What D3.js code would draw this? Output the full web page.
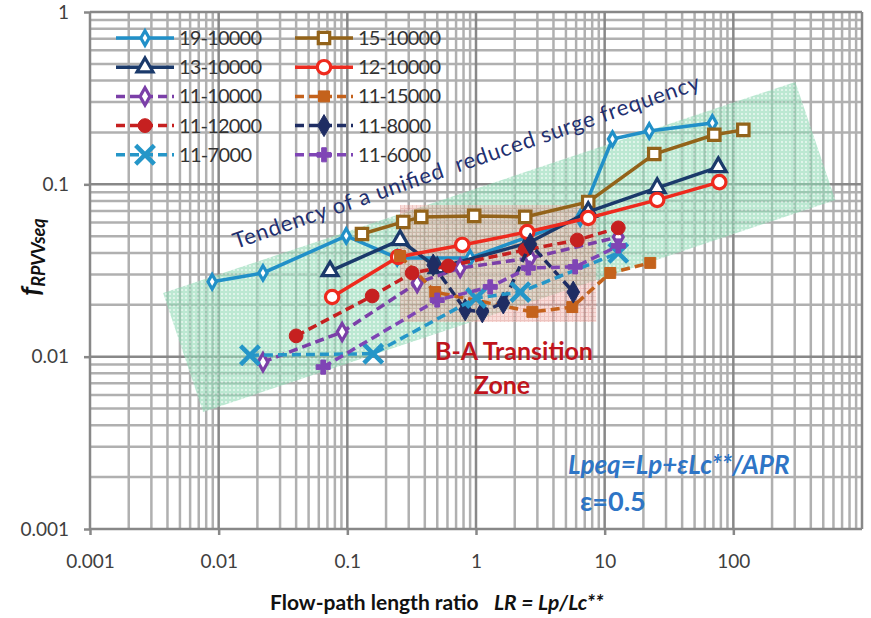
<!DOCTYPE html>
<html>
<head>
<meta charset="utf-8">
<script src="https://cdn.jsdelivr.net/npm/d3@7"></script>
<style>
body{margin:0;background:#fff;}
svg{display:block;font-family:Lato,"Open Sans",sans-serif;}
</style>
</head>
<body>
<svg id="chart" width="871" height="618"></svg>
<script>
// values (LR, f)
const lr_19_10000=[0.0089,0.0221,0.098,0.244,0.90,6.46,11.5,22.2,68.7]
const f_19_10000=[0.0272,0.0306,0.0502,0.0374,0.0374,0.0638,0.183,0.204,0.227]
const lr_15_10000=[0.130,0.272,0.375,0.968,2.41,7.45,24.3,71.1,119.6]
const f_15_10000=[0.0515,0.0605,0.0647,0.0656,0.0647,0.079,0.150,0.194,0.207]
const lr_13_10000=[0.0734,0.257,0.50,2.55,7.45,25.6,76.4]
const f_13_10000=[0.0314,0.0475,0.0327,0.0457,0.0692,0.0953,0.126]
const lr_12_10000=[0.0762,0.248,0.782,2.50,7.45,25.6,77.8]
const f_12_10000=[0.0222,0.0379,0.0445,0.0529,0.0638,0.0812,0.103]
const lr_11_10000=[0.0221,0.0911,0.349,0.753,2.64,12.76]
const f_11_10000=[0.0093,0.0139,0.0268,0.0327,0.0374,0.0495]
const lr_11_15000=[0.257,0.482,2.74,5.60,11.05,22.6]
const f_11_15000=[0.0384,0.0237,0.0182,0.0194,0.0306,0.0350]
const lr_11_12000=[0.040,0.156,0.319,0.608,2.41,6.12,12.76]
const f_11_12000=[0.0132,0.0225,0.0306,0.0336,0.0416,0.0475,0.0559]
const lr_11_8000=[0.465,0.824,1.12,1.63,2.64,5.70]
const f_11_8000=[0.0340,0.0187,0.0182,0.0205,0.0451,0.0237]
const lr_11_7000=[0.0175,0.159,1.00,2.21,12.76]
const f_11_7000=[0.0102,0.0104,0.0219,0.0237,0.040]
const lr_11_6000=[0.0649,0.499,1.29,2.55,5.9,12.76]
const f_11_6000=[0.0087,0.0213,0.0254,0.0327,0.0332,0.0439]

// shaded zones (corners in data units)
const bandLR=[0.0037,303,621,0.00757]
const bandF=[0.0234,0.393,0.0812,0.00478]
const zoneLR=[0.257,8.6]
const zoneF=[0.0159,0.0759]

const xTicks=[0.001,0.01,0.1,1,10,100]
const yTicks=[0.001,0.01,0.1,1]
const legendOrder=["19-10000","13-10000","11-10000","11-12000","11-7000","15-10000","12-10000","11-15000","11-8000","11-6000"]

const series=[
  {name:"19-10000",lr:lr_19_10000,f:f_19_10000,color:"#2190c8",dash:false,sym:d3.symbolDiamond,size:60,open:true},
  {name:"15-10000",lr:lr_15_10000,f:f_15_10000,color:"#93631a",dash:false,sym:d3.symbolSquare,size:130,open:true},
  {name:"13-10000",lr:lr_13_10000,f:f_13_10000,color:"#1b3a6b",dash:false,sym:d3.symbolTriangle,size:110,open:true},
  {name:"12-10000",lr:lr_12_10000,f:f_12_10000,color:"#ee2a1e",dash:false,sym:d3.symbolCircle,size:140,open:true},
  {name:"11-10000",lr:lr_11_10000,f:f_11_10000,color:"#7b3fa8",dash:true,sym:d3.symbolDiamond,size:85,open:true},
  {name:"11-15000",lr:lr_11_15000,f:f_11_15000,color:"#c4621c",dash:true,sym:d3.symbolSquare,size:120,open:false},
  {name:"11-12000",lr:lr_11_12000,f:f_11_12000,color:"#c62020",dash:true,sym:d3.symbolCircle,size:150,open:false},
  {name:"11-8000",lr:lr_11_8000,f:f_11_8000,color:"#1f2d63",dash:true,sym:d3.symbolDiamond,size:140,open:false},
  {name:"11-7000",lr:lr_11_7000,f:f_11_7000,color:"#2596c8",dash:true,sym:d3.symbolTimes,size:230,open:false,stroke:true},
  {name:"11-6000",lr:lr_11_6000,f:f_11_6000,color:"#7f45b5",dash:true,sym:d3.symbolCross,size:110,open:false}
]

const svg=d3.select("#chart")
const x=d3.scaleLog().domain([0.001,1000]).range([90,862])
const y=d3.scaleLog().domain([0.001,1]).range([529,12])
const isMajor=v=>Math.abs(Math.log10(v)-Math.round(Math.log10(v)))<1e-6

// patterns for the shaded zones
const defs=svg.append("defs")
const pg=defs.append("pattern").attr("id","dots").attr("width",4).attr("height",4).attr("patternUnits","userSpaceOnUse")
pg.append("rect").attr("width",4).attr("height",4).attr("fill","#8fd8b4")
pg.append("circle").attr("cx",2).attr("cy",2).attr("r",0.9).attr("fill","#e6f7ee")
const pp=defs.append("pattern").attr("id","hatch").attr("width",4).attr("height",4).attr("patternUnits","userSpaceOnUse")
pp.append("rect").attr("width",4).attr("height",4).attr("fill","#f2b3ac")
pp.append("path").attr("d","M0,0.5H4M0.5,0V4").attr("stroke","#d97c74").attr("stroke-width",1)

// grid
const grid=svg.append("g")
const xg=x.ticks(), yg=y.ticks()
grid.selectAll(".vx").data(xg).enter().append("line")
  .attr("x1",d=>x(d)).attr("x2",d=>x(d)).attr("y1",y(1)).attr("y2",y(0.001))
  .attr("stroke",d=>isMajor(d)?"#888":"#b0b0b0").attr("stroke-width",2.5)
grid.selectAll(".hy").data(yg).enter().append("line")
  .attr("y1",d=>y(d)).attr("y2",d=>y(d)).attr("x1",x(0.001)).attr("x2",x(1000))
  .attr("stroke",d=>isMajor(d)?"#888":"#b0b0b0").attr("stroke-width",2.5)
grid.selectAll("line").filter(d=>isMajor(d)).raise()

// zones
svg.append("polygon")
  .attr("points",bandLR.map((v,i)=>[x(v),y(bandF[i])].join(",")).join(" "))
  .attr("fill","url(#dots)").attr("opacity",0.6)
svg.append("rect")
  .attr("x",x(zoneLR[0])).attr("y",y(zoneF[1]))
  .attr("width",x(zoneLR[1])-x(zoneLR[0])).attr("height",y(zoneF[0])-y(zoneF[1]))
  .attr("fill","url(#hatch)").attr("opacity",0.45)

// axes
const yaxis=d3.axisLeft(y).tickValues(yTicks).tickSize(6).tickPadding(15).tickFormat(d=>String(d))
const ya=svg.append("g").attr("transform","translate(90,0)").call(yaxis)
const xaxis=d3.axisBottom(x).tickValues(xTicks).tickSize(6).tickPadding(20).tickFormat(d=>String(d))
const xa=svg.append("g").attr("transform","translate(0,529)").call(xaxis)
;[ya,xa].forEach(a=>{
  a.select(".domain").remove()
  a.selectAll(".tick line").attr("stroke","#888").attr("stroke-width",2.5)
  a.selectAll(".tick text").attr("fill","#404040").style("font-size","19px").style("font-family","Lato")
})

// series
const line=d3.line().x(d=>x(d[0])).y(d=>y(d[1]))
series.forEach(s=>{
  const pts=s.lr.map((v,i)=>[v,s.f[i]])
  svg.append("path").datum(pts).attr("d",line)
    .attr("fill","none").attr("stroke",s.color).attr("stroke-width",3.5)
    .attr("stroke-dasharray",s.dash?"9,5":null)
  svg.append("g").selectAll("path").data(pts).enter().append("path")
    .attr("transform",d=>`translate(${x(d[0])},${y(d[1])})`)
    .attr("d",d3.symbol().type(s.sym).size(s.size))
    .attr("fill",s.stroke?"none":(s.open?"#fff":s.color))
    .attr("stroke",s.color).attr("stroke-width",s.stroke?4.5:(s.open?3.2:1))
})

// legend
const lg=svg.append("g")
legendOrder.forEach((n,i)=>{
  const s=series.find(d=>d.name===n)
  const col=Math.floor(i/5), row=i%5
  const x0=col?295:116, yy=38+row*29.2
  lg.append("line").attr("x1",x0).attr("x2",x0+58).attr("y1",yy).attr("y2",yy)
    .attr("stroke",s.color).attr("stroke-width",3.5).attr("stroke-dasharray",s.dash?"9,5":null)
  lg.append("path").attr("transform",`translate(${x0+29},${yy})`)
    .attr("d",d3.symbol().type(s.sym).size(s.size))
    .attr("fill",s.stroke?"none":(s.open?"#fff":s.color))
    .attr("stroke",s.color).attr("stroke-width",s.stroke?4.5:(s.open?3.2:1))
  lg.append("text").attr("x",x0+63).attr("y",yy+7).text(n)
    .attr("fill","#333").style("font-size","20px").attr("textLength",n.length===8?83:73)
})

// annotations
svg.append("text").attr("transform","translate(236,249) rotate(-19)")
  .attr("textLength",492).attr("lengthAdjust","spacing")
  .style("white-space","pre").style("font-size","22px").attr("fill","#1f3070")
  .text("Tendency of a unified  reduced surge frequency")
svg.append("text").attr("x",514).attr("y",360).attr("text-anchor","middle")
  .attr("fill","#c0141c").style("font-size","25px").style("font-weight","bold").text("B-A Transition")
svg.append("text").attr("x",502).attr("y",394).attr("text-anchor","middle")
  .attr("fill","#c0141c").style("font-size","25px").style("font-weight","bold").text("Zone")
svg.append("text").attr("x",568).attr("y",474)
  .attr("fill","#2e75c6").style("font-size","26px").style("font-weight","bold").style("font-style","italic")
  .text("Lpeq=Lp+εLc**/APR")
svg.append("text").attr("x",580).attr("y",511)
  .attr("fill","#2e75c6").style("font-size","27px").style("font-weight","bold")
  .text("ε=0.5")

// axis titles
const xt=svg.append("text").attr("x",270).attr("y",610).style("font-size","21px").style("font-weight","bold").attr("fill","#111")
  .style("white-space","pre")
xt.append("tspan").text("Flow-path length ratio   ")
xt.append("tspan").style("font-style","italic").text("LR = Lp/Lc**")
const yt=svg.append("text").attr("transform","translate(40,257) rotate(-90)").attr("text-anchor","middle")
  .style("font-weight","bold").style("font-style","italic").attr("fill","#111")
yt.append("tspan").style("font-size","27px").text("f")
yt.append("tspan").style("font-size","18px").attr("dy",5).text("RPVVseq")
</script>
</body>
</html>
